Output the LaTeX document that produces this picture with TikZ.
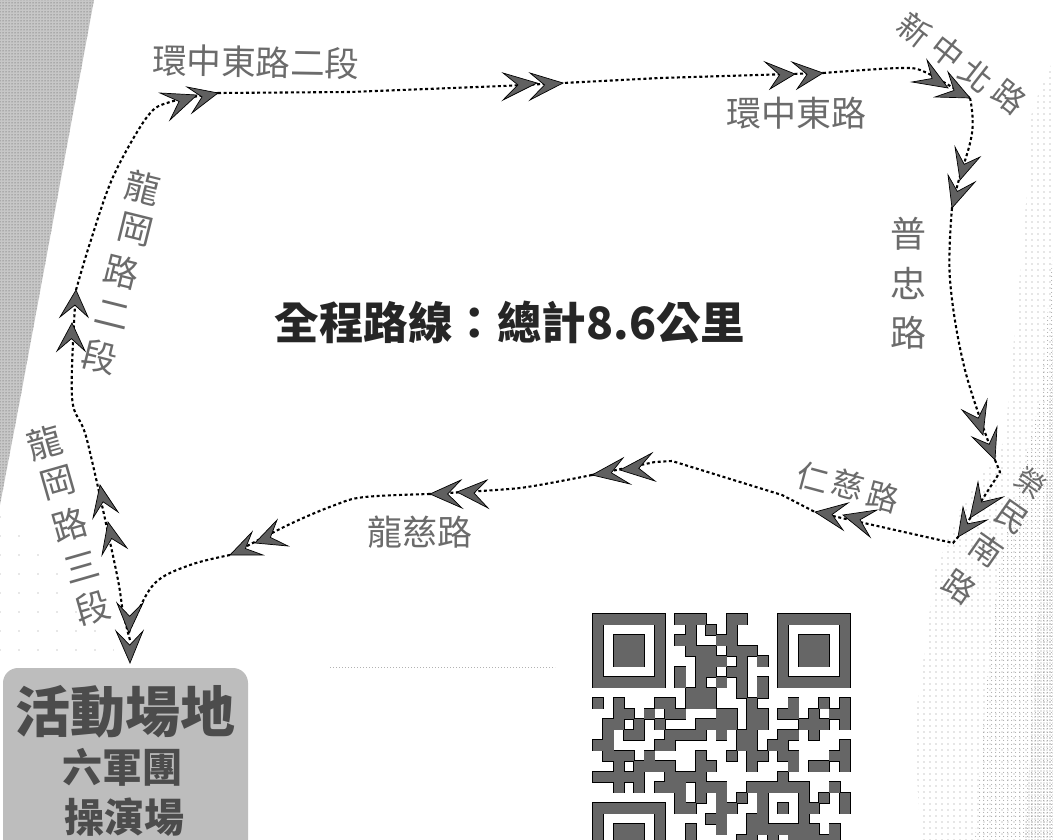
\documentclass[tikz,border=0pt]{standalone}
\usepackage{fontspec}
\usetikzlibrary{calc,patterns.meta,arrows.meta}
\newfontfamily\cjk{Noto Sans CJK TC}
\definecolor{labelgrey}{gray}{0.42}
\definecolor{stripgrey}{gray}{0.78}
\definecolor{boxgrey}{gray}{0.74}
\definecolor{qrgrey}{gray}{0.40}
\tikzset{
  route/.style={line width=2.1pt,dash pattern=on 3pt off 2.6pt,black},
  chevronshape/.style={fill=gray!75!black,draw=black,line width=0.7pt,line join=miter,miter limit=20},
  roadlabel/.style={inner sep=0pt,font=\cjk\fontsize{32}{32}\selectfont,text=labelgrey},
  qrouter/.style={draw=black,line width=1.6pt,fill=black},
  qrinner/.style={fill=qrgrey},
}
\newcommand\chev[4]{%
  \coordinate (#1) at #2;
  \path[chevronshape] (#1) -- #3 -- ($(#1)!.56!($#3!.5!#4$)$) -- #4 -- cycle;}
\newcommand\qrpass[1]{%
 \foreach \r/\cl in {
  0/{0,1,2,3,4,5,6,8,9,10,13,14,18,19,20,21,22,23,24},
  1/{0,6,9,11,13,18,24},
  2/{0,2,3,4,6,8,9,12,13,18,20,21,22,24},
  3/{0,2,3,4,6,9,10,11,13,14,15,18,20,21,22,24},
  4/{0,2,3,4,6,10,11,12,14,16,18,20,21,22,24},
  5/{0,6,8,10,11,13,14,18,24},
  6/{0,1,2,3,4,5,6,8,10,12,14,16,18,19,20,21,22,23,24},
  7/{9,10,11,14,16},
  8/{0,2,6,7,9,10,11,15,19,22,24},
  9/{2,3,5,7,8,12,13,15,16,18,19,21,23,24},
  10/{1,2,4,6,10,11,12,13,15,16,20,21,22,24},
  11/{1,3,4,7,8,9,10,12,14,15,18,19,21},
  12/{0,1,6,7,14,15,17,18,24},
  13/{1,2,3,5,10,13,15,16,18,19,23,24},
  14/{2,4,5,6,7,10,11,15,19,21,22,24},
  15/{0,1,2,3,4,7,8,9,10,18},
  16/{2,4,6,7,8,10,11,12,15,16,17,18,19,20,23},
  17/{8,10,12,14,16,20,22,24},
  18/{0,1,2,3,4,5,6,8,9,12,13,16,18,20,21,24},
  19/{0,6,11,12,15,16,20},
  20/{0,2,3,4,6,9,12,15,16,17,18,19,20,21,23},
  21/{0,2,3,4,6,9,14,15,17,19,20,21,22,23}}{%
  \foreach \c in \cl {\path[#1] ({593+10.28*\c},{614+10.5*\r}) rectangle ++(10.28,10.5);}}}
\begin{document}
\begin{tikzpicture}[x=1pt,y=-1pt]
\clip (0,0) rectangle (1053,840);
\fill[white] (0,0) rectangle (1053,840);
% stippled background
\fill[pattern={Dots[distance=6pt,radius=0.65pt]},pattern color=gray!85]
  (1053,60) -- (1032,110) -- (1025,220) -- (1015,330) -- (1005,440) -- (960,510) -- (935,570) -- (925,650) -- (915,720) -- (920,840) -- (1053,840) -- cycle;
\fill[pattern={Dots[distance=4pt,radius=0.6pt]},pattern color=gray!80]
  (1053,250) -- (1040,400) -- (1000,560) -- (985,700) -- (975,840) -- (1053,840) -- cycle;
\fill[pattern={Dots[distance=3pt,radius=0.6pt]},pattern color=gray!80]
  (1053,330) -- (1045,500) -- (1025,840) -- (1053,840) -- cycle;
\fill[pattern={Dots[distance=19pt,radius=0.6pt]},pattern color=gray!80]
  (0,510) -- (20,520) -- (125,665) -- (0,665) -- cycle;
\fill[stripgrey] (0,0) -- (94,0) -- (20,400) -- (0,505) -- cycle;
\fill[pattern={Dots[distance=3pt,radius=0.5pt]},pattern color=black!70] (0,0) -- (94,0) -- (20,400) -- (0,505) -- cycle;
\draw[gray!60,dash pattern=on 1pt off 2pt,line width=.6pt] (330,667) -- (555,667);
% waypoints
\coordinate (a1) at (123,612);
\coordinate (a2) at (116,570);
\coordinate (b1) at (87,440);
\coordinate (b2) at (72,397);
\coordinate (c1) at (90,243);
\coordinate (c2) at (113,177);
\coordinate (c3) at (147,117);
\coordinate (c4) at (170,102);
\coordinate (d1) at (350,92);
\coordinate (d2) at (503,86);
\coordinate (e1) at (660,78);
\coordinate (f1) at (900,68);
\coordinate (f2) at (925,72);
\coordinate (g1) at (972,133);
\coordinate (g2) at (958,183);
\coordinate (h1) at (950,280);
\coordinate (h2) at (965,370);
\coordinate (i1) at (1000,472);
\coordinate (j1) at (953,543);
\coordinate (k1) at (782,495);
\coordinate (k2) at (672,461);
\coordinate (k3) at (655,462);
\coordinate (m1) at (520,488);
\coordinate (n1) at (365,497);
\coordinate (n2) at (335,505);
\coordinate (n3) at (288,525);
\coordinate (o1) at (190,565);
\coordinate (o2) at (155,583);
\coordinate (o3) at (134,620);
\coordinate (t1) at (130,640);
\coordinate (t2) at (76,290);
\coordinate (t3) at (218,93);
\coordinate (t5) at (563,83);
\coordinate (t7) at (823,73);
\coordinate (t8) at (970,98);
\coordinate (t10) at (952,208);
\coordinate (t11) at (995,460);
\coordinate (t12) at (815,512);
\coordinate (t13) at (592,475);
\coordinate (t15) at (430,494);
\coordinate (t14) at (230,555);
\coordinate (t16) at (958,537);
% dotted routes
\draw[route] plot[smooth,tension=.55] coordinates {(t1) (a1) (a2) (b1) (b2) (t2)};
\draw[route] plot[smooth,tension=.55] coordinates {(t2) (c1) (c2) (c3) (c4) (t3)};
\draw[route] (t3) -- (d1) -- (d2) -- (t5) -- (e1) -- (t7);
\draw[route] plot[smooth,tension=.5] coordinates {(t7) (f1) (f2) (t8)};
\draw[route] plot[smooth,tension=.7] coordinates {(t8) (g1) (g2) (t10)};
\draw[route] plot[smooth,tension=.6] coordinates {(t10) (h1) (h2) (t11)};
\draw[route] (t11) -- (i1) -- (t16) -- (j1) -- (t12) -- (k1) -- (k2) -- (k3) -- (t13);
\draw[route] plot[smooth,tension=.4] coordinates {(t13) (m1) (t15)};
\draw[route] plot[smooth,tension=.6] coordinates {(t15) (n1) (n2) (n3) (t14)};
\draw[route] plot[smooth,tension=.6] coordinates {(t14) (o1) (o2) (o3) (129,633)};
% chevrons
\chev{u1}{(129,633)}{(117,603)}{(143,603)}
\chev{u2}{(130,663)}{(116,631)}{(143,631)}
\chev{u3}{(100,485)}{(93,518)}{(118,512)}
\chev{u4}{(108,522)}{(102,555)}{(127,548)}
\chev{u5}{(76,290)}{(60,317)}{(88,317)}
\chev{u6}{(72,323)}{(57,351)}{(85,351)}
\chev{u7}{(197,95)}{(160,93)}{(170,120)}
\chev{u8}{(218,93)}{(187,87)}{(192,113)}
\chev{u9}{(537,83)}{(503,73)}{(503,100)}
\chev{u10}{(563,83)}{(530,73)}{(530,100)}
\chev{u11}{(795,74)}{(765,62)}{(770,89)}
\chev{u12}{(823,73)}{(792,62)}{(797,89)}
\chev{u13}{(948,88)}{(927,60)}{(912,82)}
\chev{u14}{(970,98)}{(948,72)}{(935,97)}
\chev{u15}{(960,180)}{(955,147)}{(980,157)}
\chev{u16}{(952,208)}{(948,175)}{(975,182)}
\chev{u17}{(983,435)}{(962,410)}{(987,400)}
\chev{u18}{(995,460)}{(972,437)}{(997,427)}
\chev{u19}{(970,518)}{(978,482)}{(1003,497)}
\chev{u20}{(958,537)}{(963,507)}{(987,520)}
\chev{u21}{(843,515)}{(870,537)}{(877,510)}
\chev{u22}{(815,512)}{(843,530)}{(848,503)}
\chev{u23}{(620,470)}{(652,453)}{(655,481)}
\chev{u24}{(592,475)}{(623,458)}{(630,484)}
\chev{u25}{(457,492)}{(487,480)}{(488,508)}
\chev{u26}{(430,494)}{(461,480)}{(462,508)}
\chev{u27}{(255,543)}{(277,520)}{(288,546)}
\chev{u28}{(230,555)}{(252,532)}{(263,555)}
% road labels
\node[roadlabel,rotate=-1,font=\cjk\fontsize{34.5}{34.5}\selectfont] (L1) at (256,62) {環中東路二段};
\node[roadlabel,font=\cjk\fontsize{35}{35}\selectfont] (L2) at (796,113) {環中東路};
\foreach \n/\t/\x/\y in {a/新/915/30,b/中/948/52,c/北/977/76,d/路/1010/97}
  \node[roadlabel,rotate=-38] (N\n) at (\x,\y) {\t};
\foreach \n/\t/\y in {a/普/234,b/忠/283,c/路/333}
  \node[roadlabel,font=\cjk\fontsize{36}{36}\selectfont] (P\n) at (908,\y) {\t};
\foreach \n/\t/\x/\y in {a/龍/143/188,b/岡/135/230,c/路/122/272,d/二/112/315,e/段/100/357}
  \node[roadlabel,rotate=-14,font=\cjk\fontsize{35}{35}\selectfont] (U\n) at (\x,\y) {\t};
\foreach \n/\t/\x/\y in {a/龍/45/443,b/岡/58/483,c/路/70/525,d/三/82/567,e/段/93/608}
  \node[roadlabel,rotate=16,font=\cjk\fontsize{35}{35}\selectfont] (W\n) at (\x,\y) {\t};
\node[roadlabel,font=\cjk\fontsize{35}{35}\selectfont] (L3) at (420,532) {龍慈路};
\foreach \n/\t/\x/\y in {a/仁/813/478,b/慈/848/485,c/路/883/497}
  \node[roadlabel,rotate=-15] (R\n) at (\x,\y) {\t};
\foreach \n/\t/\x/\y/\s in {a/榮/1031/483/29,b/民/1012/517/32,c/南/987/550/32,d/路/960/587/32}
  \node[roadlabel,rotate=-35,font=\cjk\fontsize{\s}{\s}\selectfont] (S\n) at (\x,\y) {\t};
% title
\node[inner sep=0pt,font=\cjk\bfseries\fontsize{44.5}{44.5}\selectfont,text=black!85] (title) at (510,322) {全程路線：總計8.6公里};
% venue box
\fill[boxgrey] (3,880) -- (3,683) arc[start angle=180,end angle=270,radius=15] -- (233,668) arc[start angle=-90,end angle=0,radius=15] -- (248,880) -- cycle;
\node[inner sep=0pt,font=\cjk\bfseries\fontsize{55}{55}\selectfont,text=black!70] (V1) at (126,712) {活動場地};
\node[inner sep=0pt,font=\cjk\bfseries\fontsize{40}{40}\selectfont,text=black!70] (V2) at (122,767) {六軍團};
\node[inner sep=0pt,font=\cjk\bfseries\fontsize{40}{40}\selectfont,text=black!70] (V3) at (124,817) {操演場};
% QR code
\qrpass{qrouter}
\qrpass{qrinner}
\end{tikzpicture}
\end{document}
